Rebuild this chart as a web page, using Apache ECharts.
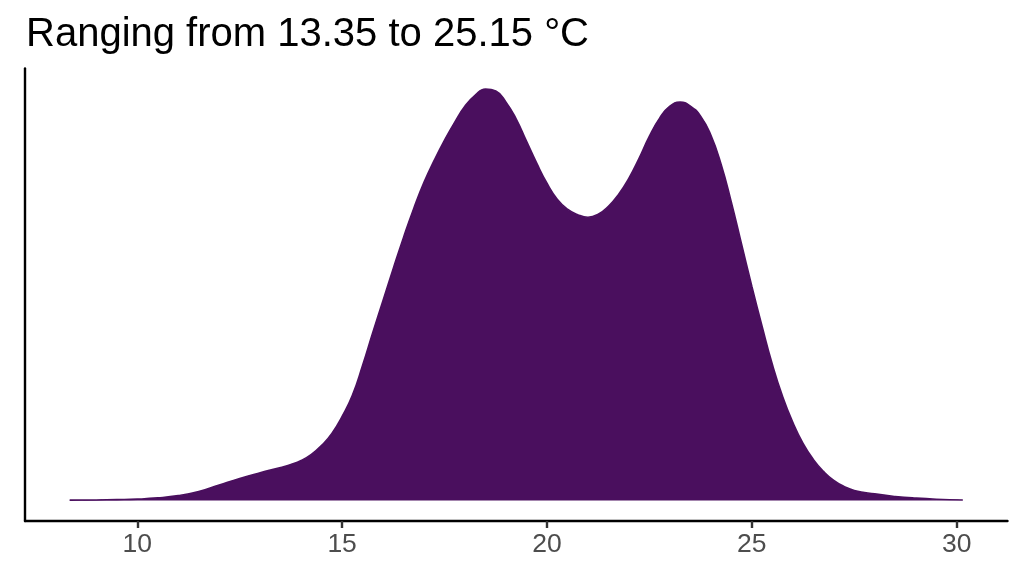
<!DOCTYPE html>
<html>
<head>
<meta charset="utf-8">
<script src="https://cdn.jsdelivr.net/npm/echarts@6/dist/echarts.min.js"></script>
<style>
html,body{margin:0;padding:0;background:#fff;}
#chart{width:1024px;height:576px;}
</style>
</head>
<body>
<div id="chart"></div>
<script>
// Temperature (°C) grid points of the density estimate
const temps = [8.35, 9.0, 9.5, 10.0, 10.5, 11.0, 11.5, 12.0, 12.5, 13.0, 13.5, 13.75, 14.0, 14.25, 14.5, 14.75, 15.0, 15.25, 15.5, 15.75, 16.0, 16.25, 16.5, 16.75, 17.0, 17.25, 17.5, 17.75, 18.0, 18.25, 18.5, 18.75, 19.0, 19.25, 19.5, 19.75, 20.0, 20.25, 20.5, 20.75, 21.0, 21.25, 21.5, 21.75, 22.0, 22.25, 22.5, 22.75, 23.0, 23.25, 23.5, 23.75, 24.0, 24.25, 24.5, 24.75, 25.0, 25.25, 25.5, 25.75, 26.0, 26.25, 26.5, 26.75, 27.0, 27.25, 27.5, 28.0, 28.5, 29.0, 29.5, 30.15];
// Density values
const density = [0.00008, 0.00014, 0.00023, 0.00037, 0.00071, 0.00136, 0.00254, 0.00438, 0.00622, 0.00783, 0.00932, 0.01017, 0.01130, 0.01300, 0.01554, 0.01893, 0.02374, 0.02967, 0.03815, 0.04747, 0.05651, 0.06556, 0.07432, 0.08251, 0.08986, 0.09607, 0.10172, 0.10681, 0.11133, 0.11444, 0.11614, 0.11557, 0.11246, 0.10766, 0.10144, 0.09522, 0.08957, 0.08505, 0.08223, 0.08067, 0.07997, 0.08081, 0.08307, 0.08647, 0.09099, 0.09664, 0.10286, 0.10794, 0.11133, 0.11246, 0.11133, 0.10851, 0.10314, 0.09494, 0.08421, 0.07234, 0.06047, 0.04917, 0.03843, 0.02939, 0.02204, 0.01611, 0.01159, 0.00819, 0.00565, 0.00396, 0.00283, 0.00184, 0.00113, 0.00065, 0.00034, 0.00014];
const xTicks = [10, 15, 20, 25, 30];
const titleText = 'Ranging from 13.35 to 25.15 °C';

const dataMin = Math.min(...temps), dataMax = Math.max(...temps);
const xPad = (dataMax - dataMin) * 0.05;
const dMax = Math.max(...density);
const pairs = temps.map((t, i) => [t, density[i]]);

const chart = echarts.init(document.getElementById('chart'));
const fontFam = '"Liberation Sans", Arial, sans-serif';
chart.setOption({
  backgroundColor: '#ffffff',
  animation: false,
  title: {
    text: titleText,
    left: 21,
    top: 10,
    textStyle: {fontFamily: fontFam, fontSize: 40, fontWeight: 'normal', color: '#000000'}
  },
  grid: {left: 25, right: 16.5, top: 68.5, bottom: 55, containLabel: false},
  xAxis: {
    type: 'value',
    min: dataMin - xPad,
    max: dataMax + xPad,
    splitLine: {show: false},
    axisLine: {show: true, onZero: false, lineStyle: {color: '#000000', width: 2.4}},
    axisTick: {show: true, length: 7, customValues: xTicks, lineStyle: {color: '#333333', width: 2.4}},
    axisLabel: {show: true, customValues: xTicks, margin: 10, color: '#4d4d4d', fontSize: 26.5, fontFamily: fontFam}
  },
  yAxis: {
    type: 'value',
    min: -0.05 * dMax,
    max: 1.05 * dMax,
    splitLine: {show: false},
    axisLine: {show: true, onZero: false, lineStyle: {color: '#000000', width: 2.4}},
    axisTick: {show: false},
    axisLabel: {show: false}
  },
  series: [{
    type: 'line',
    data: pairs,
    smooth: 0.5,
    showSymbol: false,
    symbol: 'none',
    lineStyle: {color: '#4a0f5e', width: 1.6},
    areaStyle: {color: '#4a0f5e', opacity: 1, origin: 0}
  }]
});
</script>
</body>
</html>
